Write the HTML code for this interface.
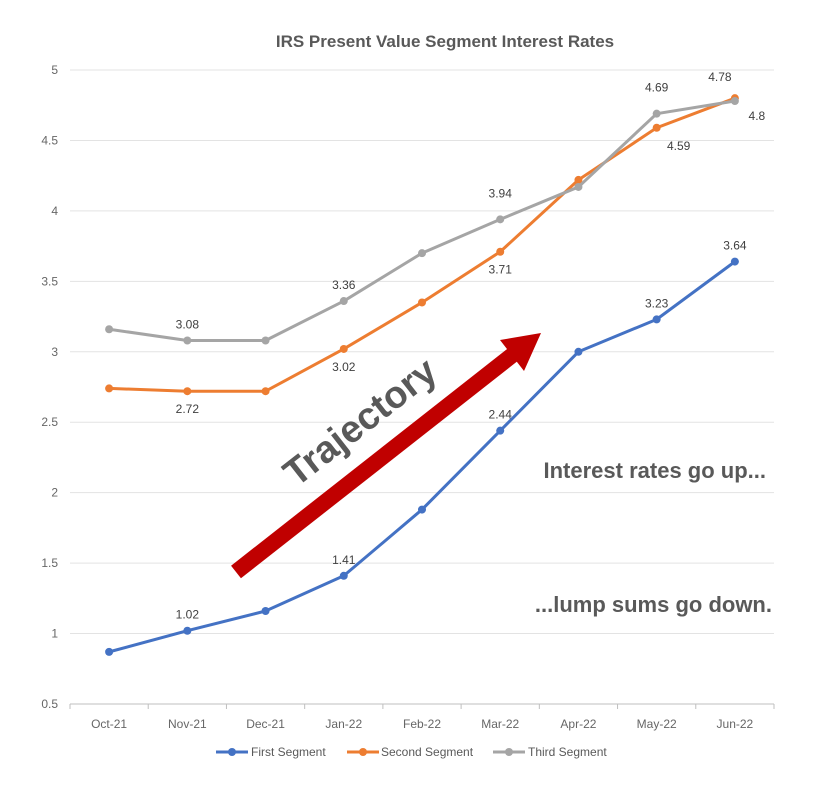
<!DOCTYPE html>
<html><head><meta charset="utf-8"><style>
body{margin:0;background:#fff;font-family:"Liberation Sans",sans-serif;}
</style></head><body>
<svg id="chart" width="821" height="788" xmlns="http://www.w3.org/2000/svg" font-family="Liberation Sans, sans-serif">
<rect width="821" height="788" fill="#fff"/>
<text x="445" y="47" text-anchor="middle" font-size="17" font-weight="bold" fill="#595959">IRS Present Value Segment Interest Rates</text>
<g id="grid"></g><g id="axes"></g><g id="series"></g><g id="labels"></g>
<g>
<line x1="236" y1="572" x2="515" y2="353" stroke="#c00000" stroke-width="16"/>
<polygon points="541,333 500,340 524,371" fill="#c00000"/>
</g>
<text x="368" y="432" transform="rotate(-38 368 432)" text-anchor="middle" font-size="38" font-weight="bold" fill="#595959">Trajectory</text>
<text x="766" y="478" text-anchor="end" font-size="22" font-weight="bold" fill="#595959">Interest rates go up...</text>
<text x="772" y="612" text-anchor="end" font-size="22" font-weight="bold" fill="#595959">...lump sums go down.</text>
<g font-size="12" fill="#595959">
<g><line x1="216" y1="752" x2="248" y2="752" stroke="#4472c4" stroke-width="3"/><circle cx="232" cy="752" r="4" fill="#4472c4"/><text x="251" y="756">First Segment</text></g>
<g><line x1="347" y1="752" x2="379" y2="752" stroke="#ed7d31" stroke-width="3"/><circle cx="363" cy="752" r="4" fill="#ed7d31"/><text x="381" y="756">Second Segment</text></g>
<g><line x1="493" y1="752" x2="525" y2="752" stroke="#a5a5a5" stroke-width="3"/><circle cx="509" cy="752" r="4" fill="#a5a5a5"/><text x="528" y="756">Third Segment</text></g>
</g>
</svg>
<script>
const categories=["Oct-21","Nov-21","Dec-21","Jan-22","Feb-22","Mar-22","Apr-22","May-22","Jun-22"];
const firstSegment=[0.87,1.02,1.16,1.41,1.88,2.44,3.00,3.23,3.64];
const secondSegment=[2.74,2.72,2.72,3.02,3.35,3.71,4.22,4.59,4.80];
const thirdSegment=[3.16,3.08,3.08,3.36,3.70,3.94,4.17,4.69,4.78];
const yTicks=[0.5,1,1.5,2,2.5,3,3.5,4,4.5,5];
const yTickLabels=["0.5","1","1.5","2","2.5","3","3.5","4","4.5","5"];
const firstLabels=[[1,"1.02"],[3,"1.41"],[5,"2.44"],[7,"3.23"],[8,"3.64"]];
const secondLabels=[[1,"2.72"],[3,"3.02"],[5,"3.71"],[7,"4.59"],[8,"4.8"]];
const thirdLabels=[[1,"3.08"],[3,"3.36"],[5,"3.94"],[7,"4.69"],[8,"4.78"]];

const NS="http://www.w3.org/2000/svg";
const L=70,R=774,T=70,B=704,ymin=0.5,ymax=5;
const bw=(R-L)/categories.length;
function xs(i){return L+bw*(i+0.5);}
function ys(v){return B-(v-ymin)/(ymax-ymin)*(B-T);}
function mk(tag,attrs,parent){const e=document.createElementNS(NS,tag);for(const k in attrs)e.setAttribute(k,attrs[k]);parent.appendChild(e);return e;}
const grid=document.getElementById('grid'),axes=document.getElementById('axes'),ser=document.getElementById('series'),lab=document.getElementById('labels');
yTicks.forEach((v,i)=>{
 const g=mk('line',{x1:L,x2:R,y1:ys(v),y2:ys(v),stroke:i==0?'#bfbfbf':'#e3e3e3','stroke-width':1},grid);
 
 
 const t=mk('text',{x:L-12,y:ys(v)+4,'text-anchor':'end','font-size':12,fill:'#666'},axes);
 t.textContent=yTickLabels[i];
 
 
});
for(let i=0;i<=categories.length;i++){
 const tk=mk('line',{x1:L+bw*i,x2:L+bw*i,y1:B,y2:B+5,stroke:'#bfbfbf'},axes);
 
 
}
categories.forEach((c,i)=>{
 const t=mk('text',{x:xs(i),y:B+24,'text-anchor':'middle','font-size':12,fill:'#666'},axes);
 t.textContent=c;
 
 
});
function drawSeries(vals,color,name){
 const p=mk('polyline',{points:vals.map((v,i)=>xs(i)+','+ys(v)).join(' '),fill:'none',stroke:color,'stroke-width':3,'stroke-linejoin':'round'},ser);
 
 
 vals.forEach((v,i)=>{
  const c=mk('circle',{cx:xs(i),cy:ys(v),r:4,fill:color},ser);
  
  
 });
}
drawSeries(firstSegment,'#4472c4','first-segment');
drawSeries(secondSegment,'#ed7d31','second-segment');
drawSeries(thirdSegment,'#a5a5a5','third-segment');
function drawLabels(list,vals,dy,name,dx){
 list.forEach(([i,s])=>{
  const t=mk('text',{x:xs(i)+(dx||0),y:ys(vals[i])+dy,'text-anchor':'middle','font-size':12,fill:'#404040'},lab);
  t.textContent=s;
  
  
 });
}
drawLabels(firstLabels,firstSegment,-12,'first-segment');
drawLabels(secondLabels.slice(0,3),secondSegment,22,'second-segment');
drawLabels(secondLabels.slice(3,5),secondSegment,22,'second-segment',22);
drawLabels(thirdLabels.slice(0,2),thirdSegment,-12,'third-segment');
drawLabels(thirdLabels.slice(2,4),thirdSegment,-22,'third-segment');
drawLabels(thirdLabels.slice(4),thirdSegment,-20,'third-segment',-15);
</script>
</body></html>
